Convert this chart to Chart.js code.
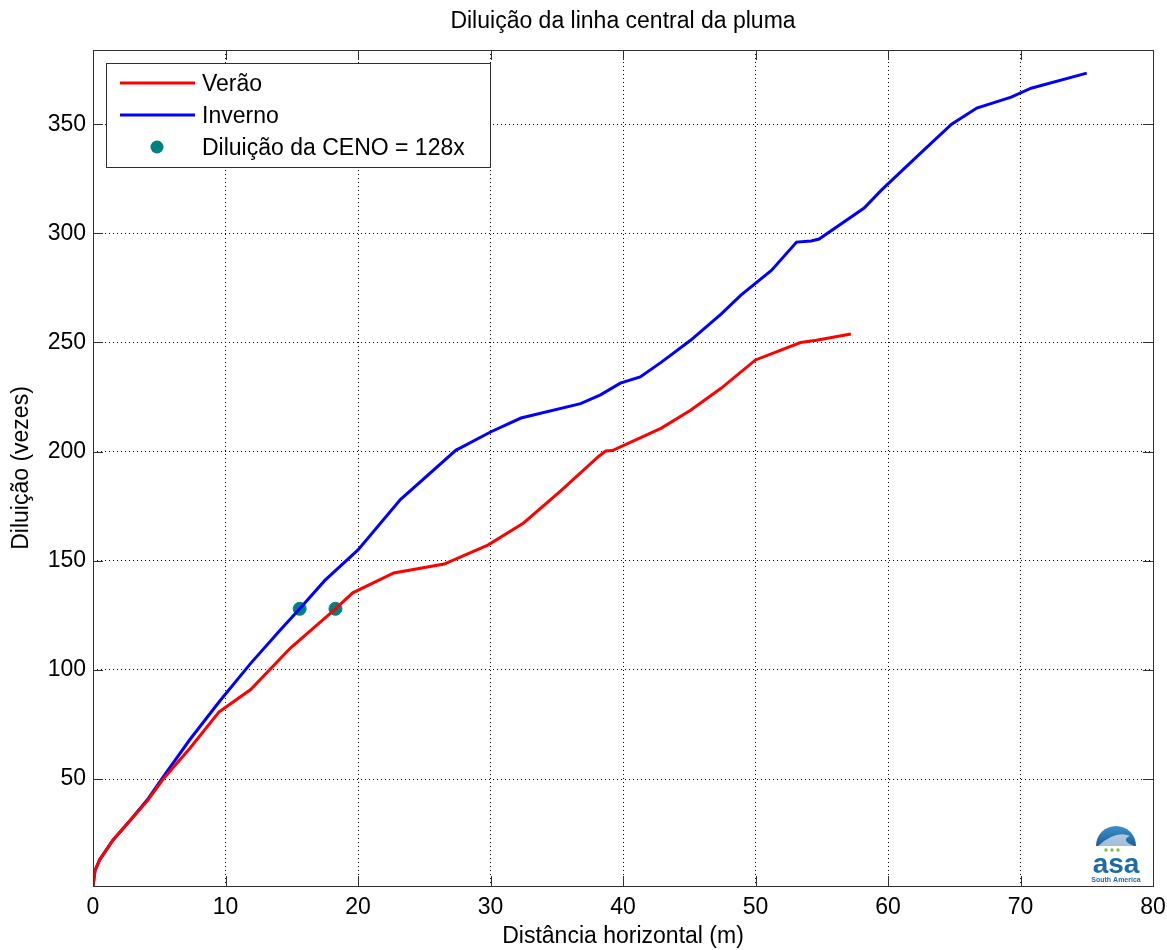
<!DOCTYPE html>
<html>
<head>
<meta charset="utf-8">
<script src="https://cdn.jsdelivr.net/npm/chart.js@4.4.0/dist/chart.umd.min.js"></script>
<style>
  body { margin: 0; background: #fff; }
  #wrap { width: 1167px; height: 950px; }
</style>
</head>
<body>
<div id="wrap"><canvas id="chartDiluicao" width="1167" height="950"></canvas></div>
<script>
// valores
const veraoX = [0, 0.15, 0.5, 1.5, 2.8, 4.1, 5.3, 7.3, 9.5, 9.8, 11.9, 14.9, 18.3, 19.6, 22.7, 26.5, 29.8, 32.5, 35.3, 38.2, 38.7, 39.2, 42.9, 45.1, 47.4, 50, 53.4, 54.6, 57.2];
const veraoY = [1, 8, 13, 22, 31, 40, 50, 64, 80.7, 82, 91, 110, 128, 135.3, 144.4, 148.5, 157.2, 167.3, 182, 198, 200.3, 200.5, 210.8, 219, 229, 242, 250, 251, 253.9];

const invernoX = [0, 0.15, 0.5, 1.5, 2.8, 4.1, 5.3, 7.3, 9.6, 11.9, 14.1, 15.6, 17.5, 20, 23.2, 27.4, 27.7, 30, 32.3, 36.8, 38.3, 39.8, 41.3, 42.9, 45.1, 47.4, 48.9, 51.2, 53.1, 54.2, 54.8, 58.2, 59.5, 62.5, 64.8, 66.7, 69.3, 70.8, 75];
const invernoY = [1, 8, 13, 22, 31, 40.5, 51, 68, 86, 103, 118, 128, 141, 155, 178, 200.7, 201.6, 209, 215.4, 222, 226, 231.4, 234.2, 241, 251, 263, 271.7, 283, 296, 296.5, 297.4, 311.6, 319.8, 337, 350, 357.4, 362.4, 366.5, 373.4];

const cenoX = [15.6, 18.3];
const cenoY = [128, 128];

const xTicks = [0, 10, 20, 30, 40, 50, 60, 70, 80];
const yTicks = [50, 100, 150, 200, 250, 300, 350];

const FONT = "'Liberation Sans', Arial, Helvetica, sans-serif";
const FSIZE = 23;

function toPoints(xs, ys) {
  const pts = [];
  for (let i = 0; i < xs.length; i++) {
    pts.push({ x: xs[i], y: ys[i] });
  }
  return pts;
}

// caixa do eixo com ticks para dentro (estilo matlab)
const boxPlugin = {
  id: 'boxPlugin',
  afterDraw(chart) {
    const ctx = chart.ctx;
    const a = chart.chartArea;
    const sx = chart.scales.x;
    const sy = chart.scales.y;
    const len = 10;
    ctx.save();
    ctx.strokeStyle = '#303030';
    ctx.lineWidth = 1;
    ctx.beginPath();
    xTicks.forEach(function(v) {
      const px = Math.round(sx.getPixelForValue(v)) + 0.5;
      ctx.moveTo(px, a.bottom);
      ctx.lineTo(px, a.bottom - len);
      ctx.moveTo(px, a.top);
      ctx.lineTo(px, a.top + len);
    });
    yTicks.forEach(function(v) {
      const py = Math.round(sy.getPixelForValue(v)) + 0.5;
      ctx.moveTo(a.left, py);
      ctx.lineTo(a.left + len, py);
      ctx.moveTo(a.right, py);
      ctx.lineTo(a.right - len, py);
    });
    ctx.stroke();
    ctx.strokeRect(Math.round(a.left) + 0.5, Math.round(a.top) + 0.5,
      Math.round(a.right - a.left), Math.round(a.bottom - a.top));
    ctx.restore();
  }
};

// legenda dentro da area do grafico
const legendPlugin = {
  id: 'legendPlugin',
  afterDraw(chart) {
    const ctx = chart.ctx;
    const a = chart.chartArea;
    const x0 = a.left + 13;
    const y0 = a.top + 13;
    const w = 384;
    const h = 104;
    ctx.save();
    ctx.fillStyle = '#fff';
    ctx.fillRect(x0, y0, w, h);
    ctx.strokeStyle = '#303030';
    ctx.lineWidth = 1;
    ctx.strokeRect(x0 + 0.5, y0 + 0.5, w, h);
    ctx.font = FSIZE + 'px ' + FONT;
    ctx.textBaseline = 'middle';
    const rows = [y0 + 20, y0 + 52, y0 + 84];
    chart.data.datasets.forEach(function(ds, i) {
      const y = rows[i];
      if (ds.showLine === false) {
        ctx.fillStyle = ds.pointBackgroundColor;
        ctx.beginPath();
        ctx.arc(x0 + 51, y, 6.5, 0, Math.PI * 2);
        ctx.fill();
      } else {
        ctx.strokeStyle = ds.borderColor;
        ctx.lineWidth = 3;
        ctx.beginPath();
        ctx.moveTo(x0 + 14, y);
        ctx.lineTo(x0 + 89, y);
        ctx.stroke();
      }
      ctx.fillStyle = '#000';
      ctx.fillText(ds.label, x0 + 96, y + 2);
    });
    ctx.restore();
  }
};

// logotipo asa no canto
const logoPlugin = {
  id: 'logoPlugin',
  afterDraw(chart) {
    const ctx = chart.ctx;
    const a = chart.chartArea;
    const cx = a.right - 37;
    const cy = a.bottom - 40;
    ctx.save();
    const g = ctx.createLinearGradient(cx, cy - 20, cx, cy);
    g.addColorStop(0, '#3d8fc8');
    g.addColorStop(1, '#1c5f9c');
    ctx.fillStyle = g;
    ctx.beginPath();
    ctx.arc(cx, cy, 20, Math.PI, 0);
    ctx.closePath();
    ctx.fill();
    ctx.fillStyle = '#ffffff';
    ctx.beginPath();
    ctx.moveTo(cx - 18, cy);
    ctx.quadraticCurveTo(cx, cy - 16, cx + 14, cy - 10);
    ctx.quadraticCurveTo(cx + 4, cy - 6, cx + 18, cy);
    ctx.closePath();
    ctx.globalAlpha = 0.6;
    ctx.fill();
    ctx.globalAlpha = 1;
    ctx.fillStyle = '#7dc242';
    [-6, 0, 6].forEach(function(d) {
      ctx.beginPath();
      ctx.arc(cx + d - 4, cy + 4, 1.7, 0, Math.PI * 2);
      ctx.fill();
    });
    ctx.fillStyle = '#1f6aa8';
    ctx.textAlign = 'center';
    ctx.font = 'bold 28px ' + FONT;
    ctx.fillText('asa', cx, cy + 27);
    ctx.font = 'bold 7px ' + FONT;
    ctx.fillText('South America', cx, cy + 36);
    ctx.restore();
  }
};

function makeChart() {
  const canvas = document.getElementById('chartDiluicao');
  const gridStyle = {
    color: '#000',
    lineWidth: 1,
    drawTicks: false
  };
  const setup = {
    type: 'line',
    data: {
      datasets: [
        {
          label: 'Verão',
          data: toPoints(veraoX, veraoY),
          borderColor: '#ff0000',
          backgroundColor: '#ff0000',
          borderWidth: 3,
          pointRadius: 0,
          tension: 0
        },
        {
          label: 'Inverno',
          data: toPoints(invernoX, invernoY),
          borderColor: '#0000ff',
          backgroundColor: '#0000ff',
          borderWidth: 3,
          pointRadius: 0,
          tension: 0
        },
        {
          label: 'Diluição da CENO = 128x',
          data: toPoints(cenoX, cenoY),
          showLine: false,
          pointRadius: 6.5,
          pointBackgroundColor: '#008080',
          pointBorderColor: '#008080',
          borderColor: '#008080'
        }
      ]
    },
    options: {
      responsive: false,
      animation: false,
      layout: { padding: { top: 0, right: 14, bottom: 0, left: 0 } },
      plugins: {
        legend: { display: false },
        tooltip: { enabled: false },
        title: {
          display: true,
          fullSize: false,
          text: 'Diluição da linha central da pluma',
          color: '#000',
          font: { family: FONT, size: FSIZE, weight: 'normal' },
          padding: { top: 8, bottom: 14.4 }
        }
      },
      scales: {
        x: {
          type: 'linear',
          min: 0,
          max: 80,
          afterBuildTicks: function(scale) {
            scale.ticks = xTicks.map(function(v) { return { value: v }; });
          },
          afterFit: function(scale) {
            scale.height = 64;
            scale.paddingRight = 0;
            scale.paddingLeft = 0;
          },
          grid: Object.assign({}, gridStyle),
          border: { display: false, dash: [1, 3] },
          ticks: {
            color: '#000',
            padding: 8,
            font: { family: FONT, size: FSIZE }
          },
          title: {
            display: true,
            text: 'Distância horizontal (m)',
            color: '#000',
            font: { family: FONT, size: FSIZE },
            padding: { top: 0, bottom: 0 }
          }
        },
        y: {
          type: 'linear',
          min: 1,
          max: 384,
          afterBuildTicks: function(scale) {
            scale.ticks = yTicks.map(function(v) { return { value: v }; });
          },
          afterFit: function(scale) {
            scale.width = 93;
            scale.paddingTop = 0;
            scale.paddingBottom = 0;
          },
          grid: Object.assign({}, gridStyle),
          border: { display: false, dash: [1, 3] },
          ticks: {
            color: '#000',
            padding: 7,
            font: { family: FONT, size: FSIZE }
          },
          title: {
            display: true,
            text: 'Diluição (vezes)',
            color: '#000',
            font: { family: FONT, size: FSIZE },
            padding: { top: 8, bottom: 0 }
          }
        }
      }
    },
    plugins: [boxPlugin, legendPlugin, logoPlugin]
  };
  return new Chart(canvas, setup);
}

makeChart();
</script>
</body>
</html>
